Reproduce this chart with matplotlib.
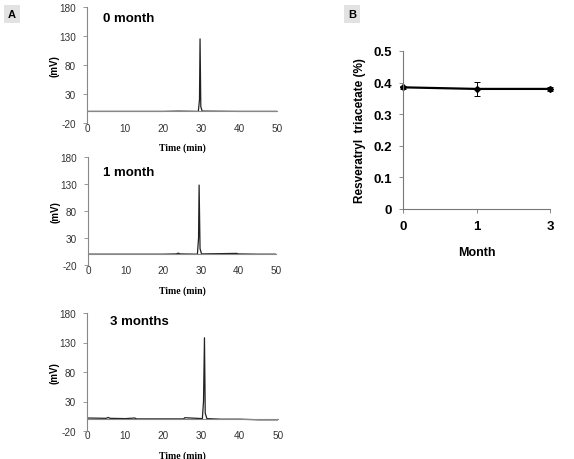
import numpy as np
import matplotlib.pyplot as plt

plt.rcParams['font.family'] = ['Liberation Sans', 'DejaVu Sans']
plt.rcParams['axes.unicode_minus'] = False

# chromatogram traces (time in min, signal in mV)
t0 = [0, 10, 20, 24, 29.3, 29.6, 29.75, 29.95, 30.3, 40, 50]
mv0 = [0, 0, 0, 0.5, 0, 20, 125, 8, 0.5, 0, 0]

t1 = [0, 10, 20, 23.5, 24, 24.5, 29.1, 29.4, 29.55, 29.8, 30.2, 35, 39.5, 40, 45, 50]
mv1 = [0, 0, 0, 0.5, 2, 0.5, 0, 30, 128, 10, 0.5, 1, 1.5, 0.5, 0, 0]

t3 = [0, 5, 5.6, 6, 10, 12.5, 13, 20, 25.3, 25.6, 30.2, 30.5, 30.75, 30.95, 31.4, 35, 40, 45, 50]
mv3 = [2, 1.5, 3, 1.5, 1, 2, 0.5, 0.5, 0.5, 2.5, 1, 30, 138, 10, 1, 0, 0, -1, -1]

panel_names = ['0 month', '1 month', '3 months']

# panel B
months = ['0', '1', '3']
content = [0.385, 0.380, 0.380]
content_err = [0.004, 0.021, 0.005]

W, H = 574, 460
fig = plt.figure(figsize=(W / 100, H / 100), dpi=100)


def rect(left, top, right, bottom):
    return [left / W, 1 - bottom / H, (right - left) / W, (bottom - top) / H]


boxes = [rect(87, 8, 277, 124), rect(88, 158, 276, 266), rect(87, 314, 278, 432)]
label_pos = [(103, 19), (103, 173), (110, 322)]
traces = [(t0, mv0), (t1, mv1), (t3, mv3)]

for box, (tx, ty), (t, mv), name in zip(boxes, label_pos, traces, panel_names):
    ax = fig.add_axes(box)
    ax.plot(t, mv, color='#222222', lw=0.9)
    ax.set_xlim(0, 50)
    ax.set_ylim(-20, 180)
    ax.set_yticks([-20, 30, 80, 130, 180])
    ax.set_xticks(np.arange(0, 51, 10))
    for s in ['top', 'right']:
        ax.spines[s].set_visible(False)
    ax.spines['bottom'].set_position(('data', 0))
    for s in ['left', 'bottom']:
        ax.spines[s].set_color('#888888')
        ax.spines[s].set_linewidth(0.8)
    ax.tick_params(axis='y', length=3, width=0.6, color='#888888', labelsize=7.2,
                   labelcolor='#333333', pad=5)
    ax.tick_params(axis='x', length=0, labelsize=7.2, labelcolor='#333333', pad=8)
    ax.set_ylabel('(mV)', fontsize=7, fontweight='bold', labelpad=0)
    ax.set_xlabel('Time (min)', fontsize=7, fontweight='bold',
                  family=['Liberation Serif'], labelpad=7)
    fig.text(tx / W, 1 - ty / H, name, fontsize=9.5, fontweight='bold', va='center')

fig.text(12 / W, 1 - 15 / H, 'A', fontsize=8, fontweight='bold', ha='center', va='center',
         bbox=dict(boxstyle='square,pad=0.4', facecolor='#e2e2e2', edgecolor='none'))
fig.text(352 / W, 1 - 15 / H, 'B', fontsize=8, fontweight='bold', ha='center', va='center',
         bbox=dict(boxstyle='square,pad=0.4', facecolor='#e2e2e2', edgecolor='none'))

axb = fig.add_axes(rect(403, 52, 550, 210))
xpos = np.arange(len(months))
axb.errorbar(xpos, content, yerr=content_err, color='black', lw=1.6, marker='D',
             markersize=3, capsize=2, elinewidth=0.7, capthick=0.7)
axb.set_xlim(0, len(months) - 1)
axb.set_ylim(0, 0.5)
axb.set_yticks([0, 0.1, 0.2, 0.3, 0.4, 0.5])
axb.set_yticklabels(['0', '0.1', '0.2', '0.3', '0.4', '0.5'])
axb.set_xticks(xpos)
axb.set_xticklabels(months)
for s in ['top', 'right']:
    axb.spines[s].set_visible(False)
for s in ['left', 'bottom']:
    axb.spines[s].set_color('#777777')
    axb.spines[s].set_linewidth(0.8)
axb.tick_params(axis='both', length=3, width=0.6, color='#777777', labelsize=9.5, pad=5)
for lab in axb.get_xticklabels() + axb.get_yticklabels():
    lab.set_fontweight('bold')
axb.set_xlabel('Month', fontsize=9, fontweight='bold', labelpad=10)
axb.set_ylabel('Resveratryl  triacetate (%)', fontsize=8.5, fontweight='bold', labelpad=5)
for art in axb.get_children():
    art.set_clip_on(False)

fig.savefig('out.png', dpi=100)
